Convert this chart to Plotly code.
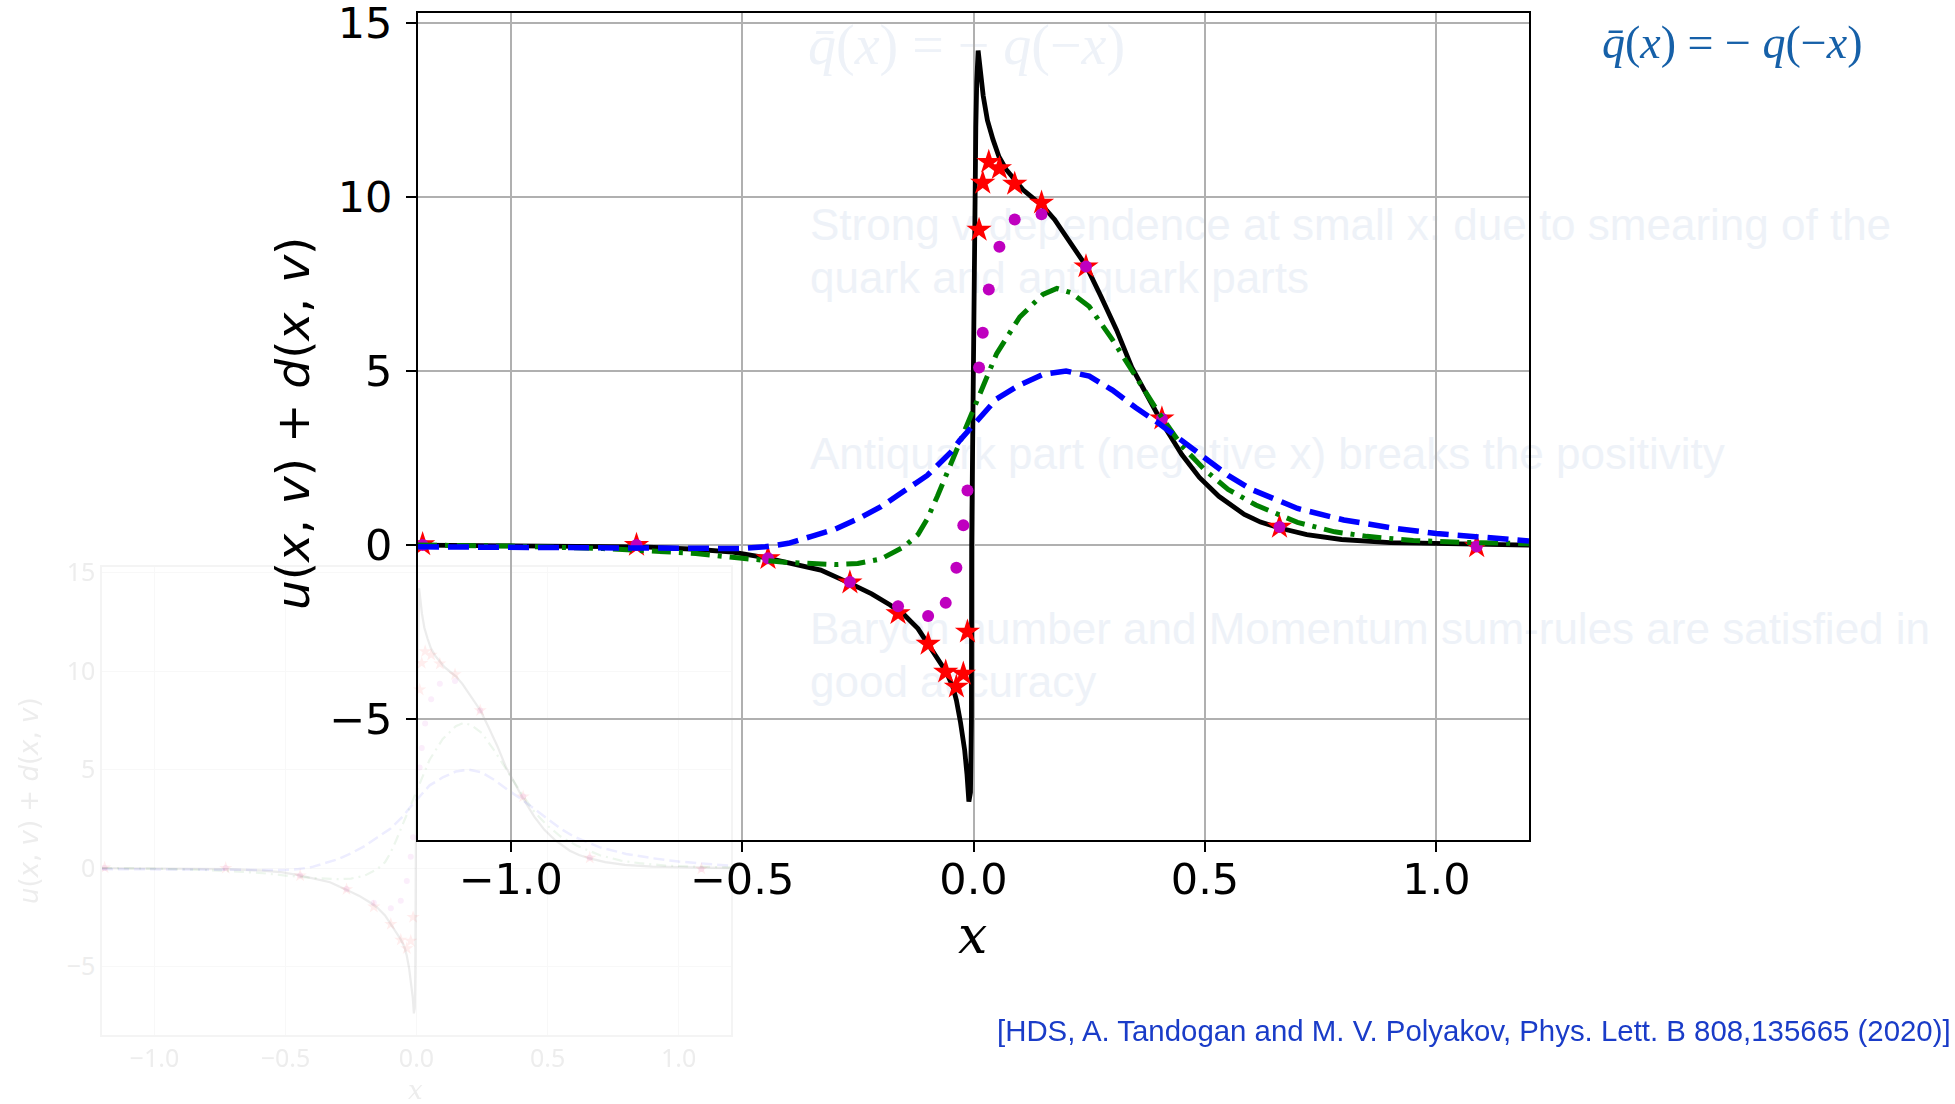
import plotly.graph_objects as go

W, H = 1955, 1104

# ---------------- data ----------------
black_x = [-1.2, -1.0, -0.85, -0.72, -0.6, -0.52, -0.45, -0.4, -0.33, -0.27, -0.22, -0.18, -0.15,
           -0.12, -0.1, -0.08, -0.06, -0.045, -0.037, -0.028, -0.019, -0.014, -0.010, -0.0065,
           -0.0045, -0.004, -0.001, 0.002, 0.005, 0.007, 0.010, 0.021, 0.030, 0.042, 0.055, 0.071,
           0.09, 0.107, 0.13, 0.15, 0.175, 0.2, 0.222, 0.244, 0.275, 0.309, 0.342, 0.375, 0.407,
           0.45, 0.488, 0.53, 0.585, 0.62, 0.661, 0.72, 0.795, 0.9, 1.04, 1.2]
black_y = [0.0, -0.01, -0.02, -0.05, -0.12, -0.2, -0.36, -0.5, -0.72, -1.08, -1.4, -1.72, -2.0,
           -2.4, -2.8, -3.2, -3.62, -4.05, -4.45, -5.1, -5.9, -6.6, -7.37, -7.1,
           -5.0, 0.0, 5.0, 9.0, 12.0, 13.3, 14.2, 12.9, 12.2, 11.65, 11.15, 10.78,
           10.45, 10.2, 9.95, 9.73, 9.35, 8.87, 8.45, 8.0, 7.15, 6.18, 5.1, 4.3, 3.52,
           2.6, 1.94, 1.4, 0.88, 0.66, 0.49, 0.3, 0.16, 0.07, 0.03, 0.0]

green_x = [-1.2, -1.0, -0.8, -0.6, -0.5, -0.4, -0.3, -0.25, -0.2, -0.15, -0.12, -0.1, -0.078,
           -0.05, -0.03, 0.0, 0.03, 0.05, 0.1, 0.15, 0.18, 0.21, 0.25, 0.3, 0.35, 0.4, 0.45,
           0.5, 0.55, 0.61, 0.7, 0.78, 0.85, 0.95, 1.05, 1.2]
green_y = [0.0, -0.03, -0.1, -0.24, -0.38, -0.5, -0.56, -0.53, -0.4, -0.05, 0.3, 0.75, 1.4,
           2.3, 2.95, 3.95, 4.9, 5.5, 6.55, 7.2, 7.37, 7.25, 6.85, 5.9, 4.85, 3.8, 2.85,
           2.15, 1.6, 1.15, 0.65, 0.38, 0.25, 0.13, 0.08, 0.04]

blue_x = [-1.2, -1.0, -0.8, -0.6, -0.5, -0.45, -0.4, -0.35, -0.3, -0.25, -0.2, -0.15, -0.1,
          -0.05, -0.03, 0.0, 0.035, 0.05, 0.1, 0.15, 0.2, 0.25, 0.3, 0.35, 0.4, 0.45, 0.5,
          0.55, 0.6, 0.7, 0.8, 0.9, 1.0, 1.1, 1.2]
blue_y = [-0.05, -0.07, -0.1, -0.12, -0.1, -0.05, 0.05, 0.25, 0.45, 0.75, 1.1, 1.55, 2.0,
          2.65, 3.0, 3.45, 3.95, 4.2, 4.6, 4.9, 5.0, 4.85, 4.45, 3.95, 3.5, 3.0, 2.5,
          2.0, 1.6, 1.05, 0.72, 0.5, 0.33, 0.22, 0.12]

pts_x = [-1.19, -0.728, -0.444, -0.267, -0.163, -0.098, -0.060, -0.037, -0.022, -0.013,
         0.012, 0.020, 0.033, 0.056, 0.089, 0.147, 0.243, 0.407, 0.661, 1.087]
stars_y = [0.02, 0.0, -0.38, -1.08, -1.96, -2.84, -3.64, -4.07, -3.70, -2.49,
           9.05, 10.4, 11.0, 10.82, 10.37, 9.83, 8.0, 3.63, 0.52, -0.04]
dots_y = [0.0, 0.0, -0.38, -1.06, -1.76, -2.04, -1.66, -0.65, 0.57, 1.57,
          5.10, 6.10, 7.34, 8.57, 9.35, 9.5, 8.0, 3.63, 0.52, -0.04]

x_ticks = [-1.0, -0.5, 0.0, 0.5, 1.0]
x_ticktext = ["\u22121.0", "\u22120.5", "0.0", "0.5", "1.0"]
y_ticks = [-5, 0, 5, 10, 15]
y_ticktext = ["\u22125", "0", "5", "10", "15"]

slide_lines = ["Strong v-dependence at small x: due to smearing of the",
               "quark and antiquark parts",
               "Antiquark part (negative x) breaks the positivity",
               "Baryon number and Momentum sum-rules are satisfied in",
               "good accuracy"]
slide_line_y = [229, 282, 458, 633, 686]

XR = [-1.2, 1.2]
YR = [-8.47, 15.28]

fig = go.Figure()

# ---------------- layer 1: faint slide text (behind everything) ----------------
FAINT = "#eef2f8"
fig.add_trace(go.Scatter(x=[810] * len(slide_lines), y=slide_line_y, text=slide_lines,
                         mode="text", textposition="middle right",
                         textfont=dict(family="Liberation Sans, Arial", size=44, color=FAINT),
                         xaxis="x", yaxis="y", showlegend=False, hoverinfo="skip"))
fig.add_trace(go.Scatter(x=[808], y=[50],
                         text=["<i>q\u0304</i>(<i>x</i>) = \u2212 <i>q</i>(\u2212<i>x</i>)"],
                         mode="text", textposition="middle right",
                         textfont=dict(family="Liberation Serif, serif", size=56, color=FAINT),
                         xaxis="x", yaxis="y", showlegend=False, hoverinfo="skip"))

# ---------------- layer 2: faint inset copy ----------------
OP = 0.07
fig.add_trace(go.Scatter(x=black_x, y=black_y, mode="lines", line=dict(color="black", width=2.2),
                         opacity=OP, xaxis="x2", yaxis="y2", showlegend=False))
fig.add_trace(go.Scatter(x=pts_x, y=stars_y, mode="markers",
                         marker=dict(symbol="star", size=10, color="red", line=dict(width=0)),
                         opacity=OP, xaxis="x2", yaxis="y2", showlegend=False))
fig.add_trace(go.Scatter(x=pts_x, y=dots_y, mode="markers",
                         marker=dict(symbol="circle", size=6, color="#bf00bf", line=dict(width=0)),
                         opacity=OP, xaxis="x2", yaxis="y2", showlegend=False))
fig.add_trace(go.Scatter(x=green_x, y=green_y, mode="lines",
                         line=dict(color="green", width=2.2, dash="10px,5px,2px,5px"),
                         opacity=OP, xaxis="x2", yaxis="y2", showlegend=False))
fig.add_trace(go.Scatter(x=blue_x, y=blue_y, mode="lines",
                         line=dict(color="blue", width=2.5, dash="11px,5px"),
                         opacity=OP, xaxis="x2", yaxis="y2", showlegend=False))

# ---------------- layer 3: main chart ----------------
fig.add_trace(go.Scatter(x=black_x, y=black_y, mode="lines", line=dict(color="black", width=4.8),
                         xaxis="x3", yaxis="y3", showlegend=False))
fig.add_trace(go.Scatter(x=pts_x, y=stars_y, mode="markers",
                         marker=dict(symbol="star", size=19, color="red", line=dict(width=0)),
                         xaxis="x3", yaxis="y3", showlegend=False))
fig.add_trace(go.Scatter(x=pts_x, y=dots_y, mode="markers",
                         marker=dict(symbol="circle", size=12, color="#bf00bf", line=dict(width=0)),
                         xaxis="x3", yaxis="y3", showlegend=False))
fig.add_trace(go.Scatter(x=green_x, y=green_y, mode="lines",
                         line=dict(color="green", width=5, dash="19px,8px,4px,8px"),
                         xaxis="x3", yaxis="y3", showlegend=False))
fig.add_trace(go.Scatter(x=blue_x, y=blue_y, mode="lines",
                         line=dict(color="blue", width=5.5, dash="21px,9px"),
                         xaxis="x3", yaxis="y3", showlegend=False))


def px_dom_x(a, b):
    return [a / W, b / W]


def px_dom_y(top, bottom):
    return [1 - bottom / H, 1 - top / H]


axfont = dict(family="DejaVu Sans", size=43, color="black")
inset_font = dict(family="Noto Sans", size=25, color="#ededed")

fig.update_layout(
    template="none",
    width=W, height=H, margin=dict(l=0, r=0, t=0, b=0, pad=0, autoexpand=False),
    paper_bgcolor="white", plot_bgcolor="rgba(0,0,0,0)", showlegend=False,
    xaxis=dict(domain=[0, 1], range=[0, W], visible=False, fixedrange=True, automargin=False),
    yaxis=dict(domain=[0, 1], range=[H, 0], visible=False, fixedrange=True, automargin=False),
    xaxis2=dict(domain=px_dom_x(102, 731), range=XR, anchor="y2", automargin=False,
                tickvals=x_ticks, ticktext=x_ticktext, tickfont=inset_font,
                showgrid=True, gridcolor="#f8f8f8", gridwidth=1, zeroline=False,
                showline=True, linecolor="#f4f4f4", linewidth=1.5, mirror=True, ticks=""),
    yaxis2=dict(domain=px_dom_y(567, 1035), range=YR, anchor="x2", automargin=False,
                tickvals=y_ticks, ticktext=y_ticktext, tickfont=inset_font,
                showgrid=True, gridcolor="#f8f8f8", gridwidth=1, zeroline=False,
                showline=True, linecolor="#f4f4f4", linewidth=1.5, mirror=True, ticks=""),
    xaxis3=dict(domain=px_dom_x(418, 1529), range=XR, anchor="y3", automargin=False,
                tickvals=x_ticks, ticktext=x_ticktext, tickfont=axfont,
                ticklabelstandoff=-10, ticklabeloverflow="allow",
                showgrid=True, gridcolor="#b0b0b0", gridwidth=2, zeroline=False,
                showline=True, linecolor="black", linewidth=2, mirror=True,
                ticks="outside", ticklen=10, tickwidth=2, tickcolor="black"),
    yaxis3=dict(domain=px_dom_y(13, 840), range=YR, anchor="x3", automargin=False,
                tickvals=y_ticks, ticktext=y_ticktext, tickfont=axfont,
                ticklabelstandoff=5, ticklabeloverflow="allow",
                showgrid=True, gridcolor="#b0b0b0", gridwidth=2, zeroline=False,
                showline=True, linecolor="black", linewidth=2, mirror=True,
                ticks="outside", ticklen=10, tickwidth=2, tickcolor="black"),
)

ylab = "<i>u</i>(<i>x</i>, <i>v</i>) + <i>d</i>(<i>x</i>, <i>v</i>)"
annotations = [
    # main axis titles
    dict(x=972 / W, y=1 - 935 / H, xref="paper", yref="paper", text="<i>x</i>",
         showarrow=False, font=dict(family="DejaVu Serif", size=52, color="black"),
         xanchor="center", yanchor="middle"),
    dict(x=293 / W, y=1 - 424 / H, xref="paper", yref="paper", text=ylab, textangle=-90,
         showarrow=False, font=dict(family="DejaVu Sans", size=47, color="black"),
         xanchor="center", yanchor="middle"),
    # inset axis titles (faint)
    dict(x=29 / W, y=1 - 801 / H, xref="paper", yref="paper", text=ylab, textangle=-90,
         showarrow=False, font=dict(family="DejaVu Sans", size=26, color="#ededed"),
         xanchor="center", yanchor="middle"),
    dict(x=415 / W, y=1 - 1090 / H, xref="paper", yref="paper", text="<i>x</i>",
         showarrow=False, font=dict(family="DejaVu Serif", size=26, color="#ededed"),
         xanchor="center", yanchor="middle"),
    # blue formula
    dict(x=1600 / W, y=1 - 42 / H, xref="paper", yref="paper",
         text="<i>q\u0304</i>(<i>x</i>) = \u2212 <i>q</i>(\u2212<i>x</i>)",
         showarrow=False, font=dict(family="Liberation Serif, serif", size=46, color="#1660a8"),
         xanchor="left", yanchor="middle"),
    # citation
    dict(x=1953 / W, y=1 - 1030 / H, xref="paper", yref="paper",
         text="[HDS, A. Tandogan and M. V. Polyakov, Phys. Lett. B 808,135665 (2020)]",
         showarrow=False,
         font=dict(family="Liberation Sans Narrow, Liberation Sans, Arial", size=29.4, color="#1a3cc8"),
         xanchor="right", yanchor="middle"),
]
fig.update_layout(annotations=annotations)

fig.write_html("out.html", config={"displayModeBar": False},
               post_script="document.body.style.margin='0';document.body.style.overflow='hidden';")
